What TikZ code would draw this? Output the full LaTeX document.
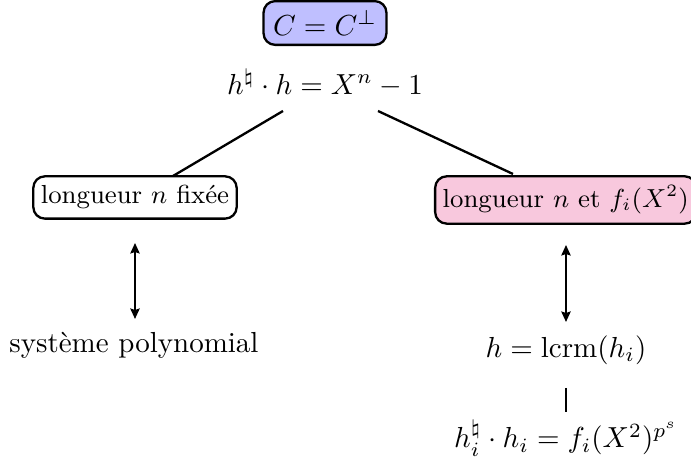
\documentclass[tikz,border=0pt]{standalone}
\usetikzlibrary{arrows.meta}
\begin{document}
\begin{tikzpicture}[x=0.345pt,y=-0.345pt,
  box/.style={draw,rounded corners=4pt,thick,inner sep=3.3pt},
  smallbox/.style={box,inner xsep=2.6pt,inner ysep=3.2pt,font=\fontsize{9}{11}\selectfont},
  plain/.style={inner sep=2pt},
  conn/.style={thick},
  dbl/.style={thick,{Stealth[length=3.6pt,width=3.2pt,inset=0.5pt]}-{Stealth[length=3.6pt,width=3.2pt,inset=0.5pt]}}]
\definecolor{boxblue}{RGB}{191,191,255}
\definecolor{boxpink}{RGB}{248,200,221}
\useasboundingbox (0,0) rectangle (691,467);
\node[box,fill=boxblue] (top) at (325,23) {$C=C^{\perp}$};
\node[plain] (eq) at (325,83) {$h^{\natural}\cdot h=X^n-1$};
\node[smallbox] (left) at (135,197.5) {longueur $n$ fixée};
\node[smallbox,fill=boxpink,anchor=west] (right) at (434,200) {longueur $n$ et $f_i(X^2)$};
\node[plain] (sys) at (134,345) {système polynomial};
\node[plain] (lcrm) at (566,350) {$h=\mathrm{lcrm}(h_i)$};
\node[plain] (bot) at (566,438) {$h_i^{\natural}\cdot h_i=f_i(X^2)^{p^s}$};
\coordinate (eql) at (283,111);
\coordinate (eqr) at (378,111);
\coordinate (la) at (173,176);
\coordinate (ra) at (513,174);
\draw[conn] (eql) -- (la);
\draw[conn] (eqr) -- (ra);
\coordinate (a1) at (135,243);
\coordinate (a2) at (135,319);
\coordinate (b1) at (566,245);
\coordinate (b2) at (566,322);
\coordinate (c1) at (566,388);
\coordinate (c2) at (566,412);
\draw[dbl] (a1) -- (a2);
\draw[dbl] (b1) -- (b2);
\draw[conn] (c1) -- (c2);
\end{tikzpicture}
\end{document}
